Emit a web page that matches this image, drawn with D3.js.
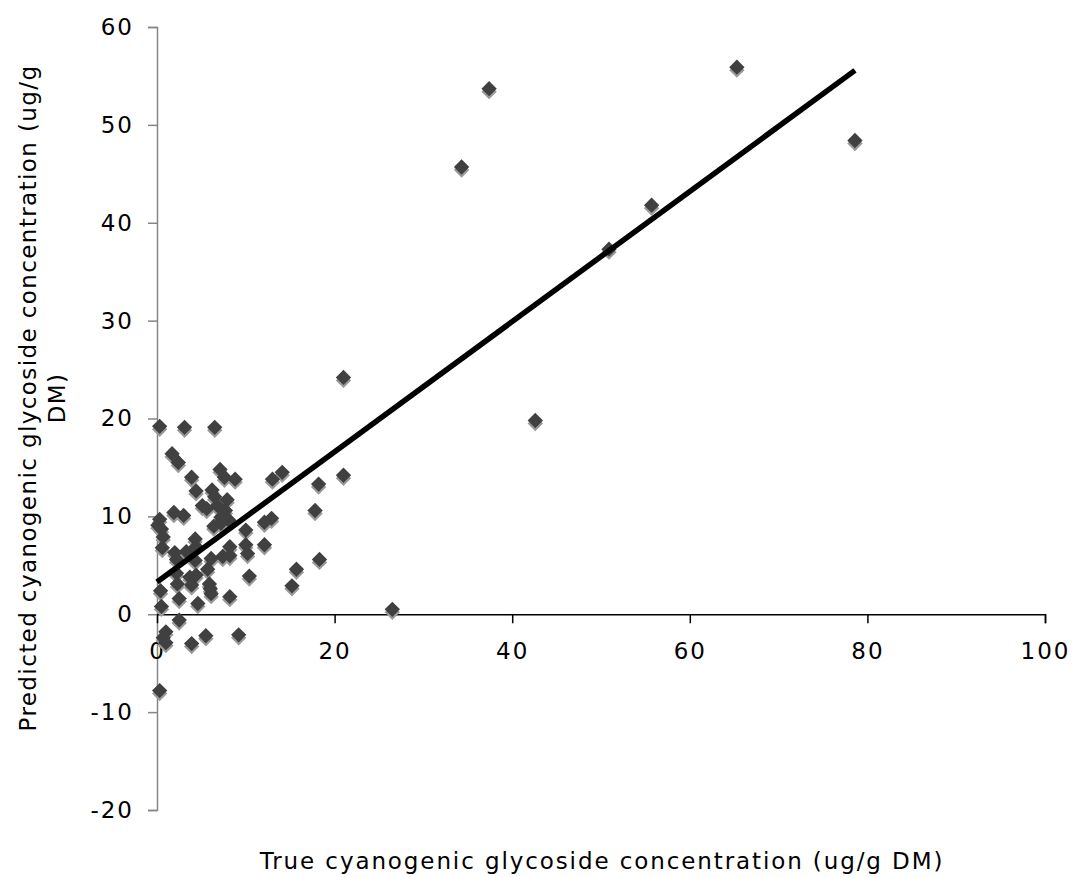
<!DOCTYPE html>
<html>
<head>
<meta charset="utf-8">
<script src="https://cdn.jsdelivr.net/npm/d3@7"></script>
<style>
  html, body { margin: 0; padding: 0; background: #fff; }
  svg { display: block; font-family: "DejaVu Sans", Verdana, sans-serif; }
</style>
</head>
<body>
<svg id="chart" width="1075" height="877"></svg>
<script>
// True vs predicted cyanogenic glycoside concentration (ug/g DM)
const trueValues = [
  65.3, 78.6, 37.4, 34.3, 55.7, 50.9, 42.6, 26.5, 21.0, 21.0,
  18.2, 17.8, 18.3, 15.7, 15.2, 14.1, 13.0, 12.1, 12.9, 12.1,
  10.4, 10.0, 10.0, 10.2, 9.2,
  0.3, 3.1, 6.5, 1.7, 2.4, 3.9, 7.1, 7.6, 8.8,
  4.4, 6.2, 6.5, 7.9, 5.1, 5.6, 6.8, 7.7, 1.9, 3.0,
  0.3, 0.1, 0.5, 7.2, 8.1, 6.4, 7.2, 0.7, 4.3,
  0.6, 2.0, 3.3, 2.2, 4.3, 4.4, 8.2, 6.1, 7.4, 8.2,
  5.7, 2.2, 3.7, 4.4, 2.3, 3.9, 5.9, 6.0,
  0.4, 6.1, 8.2, 2.5, 4.6, 0.5,
  2.5, 1.0, 0.7, 1.0, 3.9, 5.5, 0.3
];
const predictedValues = [
  55.9, 48.4, 53.7, 45.7, 41.8, 37.3, 19.8, 0.5, 24.2, 14.2,
  13.3, 10.6, 5.6, 4.6, 2.9, 14.5, 13.8, 9.4, 9.8, 7.1,
  3.9, 8.6, 7.1, 6.2, -2.1,
  19.2, 19.1, 19.1, 16.4, 15.5, 14.0, 14.8, 14.0, 13.8,
  12.6, 12.7, 12.0, 11.7, 11.1, 10.8, 11.1, 10.6, 10.4, 10.1,
  9.7, 9.1, 8.7, 9.9, 9.6, 9.0, 9.3, 7.9, 7.7,
  6.8, 6.3, 6.4, 5.6, 5.5, 6.9, 6.9, 5.7, 5.9, 6.0,
  4.6, 4.2, 3.8, 4.0, 3.1, 3.0, 3.1, 2.6,
  2.4, 2.1, 1.8, 1.6, 1.1, 0.8,
  -0.6, -1.8, -2.4, -2.9, -3.0, -2.2, -7.8
];
const points = trueValues.map((x, i) => ({ x, y: predictedValues[i] }));

// Fitted regression line
const fitIntercept = 3.3;
const fitSlope = 0.665;

const xTicks = [0, 20, 40, 60, 80, 100];
const yTicks = [-20, -10, 0, 10, 20, 30, 40, 50, 60];

const xTitle = "True cyanogenic glycoside concentration (ug/g DM)";
const yTitleLines = ["Predicted cyanogenic glycoside concentration (ug/g", "DM)"];

const svg = d3.select("#chart");
const plainNumber = d => String(d);   // hyphen-minus for negatives

const x = d3.scaleLinear().domain([0, 100]).range([157, 1045]);
const y = d3.scaleLinear().domain([-20, 60]).range([810, 27]);

// Y axis (grey line, outward ticks)
const yAxis = svg.append("g")
  .attr("transform", `translate(${x(0)},0)`)
  .call(d3.axisLeft(y).tickValues(yTicks).tickSize(9).tickPadding(14).tickFormat(plainNumber));
yAxis.select(".domain").attr("stroke", "#868686").attr("stroke-width", 1.5);
yAxis.selectAll(".tick line").attr("stroke", "#868686").attr("stroke-width", 1.5);
yAxis.selectAll(".tick text")
  .attr("font-size", 23).attr("letter-spacing", 2).attr("fill", "#000")
  .attr("font-family", "DejaVu Sans, Verdana, sans-serif");

// X axis crossing at y = 0
const xAxis = svg.append("g")
  .attr("transform", `translate(0,${y(0)})`)
  .call(d3.axisBottom(x).tickValues(xTicks).tickSize(9).tickPadding(19).tickFormat(plainNumber));
xAxis.select(".domain").attr("stroke", "#000").attr("stroke-width", 1.5);
xAxis.selectAll(".tick line").attr("stroke", "#000").attr("stroke-width", 1.5);
xAxis.selectAll(".tick").filter(d => d === 0).select("line").remove();
xAxis.selectAll(".tick text")
  .attr("font-size", 23).attr("letter-spacing", 2).attr("fill", "#000")
  .attr("font-family", "DejaVu Sans, Verdana, sans-serif");

// Data markers: diamond with a soft drop shadow
const diamond = d3.symbol().type(d3.symbolDiamond2).size(150);
const marks = svg.append("g");
marks.selectAll("path.shadow")
  .data(points).join("path")
  .attr("class", "shadow")
  .attr("d", diamond)
  .attr("transform", d => `translate(${x(d.x)},${y(d.y) + 3})`)
  .attr("fill", "#9a9a9a");
marks.selectAll("path.pt")
  .data(points).join("path")
  .attr("class", "pt")
  .attr("d", diamond)
  .attr("transform", d => `translate(${x(d.x)},${y(d.y)})`)
  .attr("fill", "#404040");

// Regression line across the observed range
const xMax = d3.max(trueValues);
svg.append("line")
  .attr("x1", x(0)).attr("y1", y(fitIntercept))
  .attr("x2", x(xMax)).attr("y2", y(fitIntercept + fitSlope * xMax))
  .attr("stroke", "#000").attr("stroke-width", 5.5);

// Axis titles
svg.append("text")
  .attr("x", 602).attr("y", 869)
  .attr("text-anchor", "middle")
  .attr("font-size", 23).attr("letter-spacing", 1.9)
  .text(xTitle);

const yTitle = svg.append("text")
  .attr("transform", "translate(0,398) rotate(-90)")
  .attr("text-anchor", "middle")
  .attr("font-size", 23).attr("letter-spacing", 1.4);
yTitle.append("tspan").attr("x", 0).attr("y", 36).text(yTitleLines[0]);
yTitle.append("tspan").attr("x", 0).attr("y", 65).text(yTitleLines[1]);
</script>
</body>
</html>
